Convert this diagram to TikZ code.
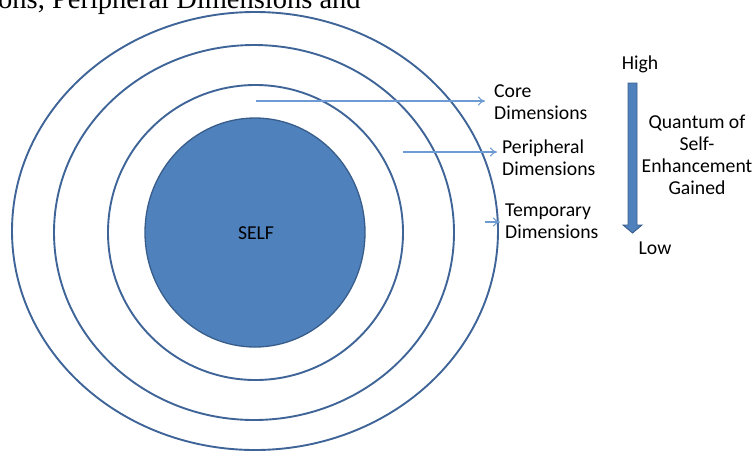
\documentclass[tikz,border=0pt]{standalone}
\usepackage{fontspec}
\setmainfont{Carlito}
\newfontfamily\seriffont{Liberation Serif}
\usetikzlibrary{arrows.meta,shapes.geometric}
\definecolor{ringblue}{HTML}{3F6498}
\definecolor{selffill}{HTML}{4F81BD}
\definecolor{selfedge}{HTML}{385D8A}
\definecolor{linkblue}{HTML}{6E9BD3}
\tikzset{
  ring/.style={draw=ringblue, line width=1.9pt},
  lbl/.style={inner sep=0pt, font=\fontsize{19.7pt}{22pt}\selectfont, text=black},
  link/.style={draw=linkblue, line width=1.1pt, -{To[length=7pt,width=9pt,line width=1.1pt]}},
}
\begin{document}
\begin{tikzpicture}[x=1pt,y=-1pt]
\useasboundingbox (0,0) rectangle (753,451);
\begin{scope}
\clip (0,0) rectangle (753,451);
% heading fragment
\node[inner sep=0pt, anchor=base west, font=\seriffont\fontsize{28.5pt}{30pt}\selectfont] (head) at (-2,8) {ons, Peripheral Dimensions and};
% rings
\draw[ring] (255,231) ellipse [x radius=243pt, y radius=219pt];
\draw[ring] (254,232.5) ellipse [x radius=200pt, y radius=187.5pt];
\draw[ring] (255.5,232.5) ellipse [x radius=147.5pt, y radius=147.5pt];
\end{scope}
% self
\node[ellipse, draw=selfedge, fill=selffill, line width=1.3pt, minimum width=220pt, minimum height=229pt, inner sep=0pt] (self) at (255,232.5) {};
\node[lbl, anchor=base] (selflbl) at (256,239.5) {SELF};
% labels
\node[lbl, anchor=west, align=left] (core) at (494,102.5) {Core\\Dimensions};
\node[lbl, anchor=west, align=left] (peri) at (502,157.5) {Peripheral\\Dimensions};
\node[lbl, anchor=west, align=left] (temp) at (505,221) {Temporary\\Dimensions};
% arrows
\coordinate (c0) at (256,101);
\coordinate (c1) at (485,101);
\coordinate (p0) at (403,152);
\coordinate (p1) at (497,152);
\coordinate (t0) at (485,222);
\coordinate (t1) at (500,222);
\draw[link] (c0) -- (c1);
\draw[link] (p0) -- (p1);
\draw[link] (t0) -- (t1);
% big arrow
\node[lbl, anchor=base] (high) at (640,69.5) {High};
\node[lbl, anchor=base] (low) at (655,254.5) {Low};
\draw[draw=selfedge, fill=selffill, line width=0.9pt]
  (628,83) -- (637,83) -- (637,225) -- (642,225) -- (632.5,233) -- (623,225) -- (628,225) -- cycle;
\node[lbl, align=center, anchor=center] (quant) at (697,155) {Quantum of\\Self-\\Enhancement\\Gained};
\end{tikzpicture}
\end{document}
